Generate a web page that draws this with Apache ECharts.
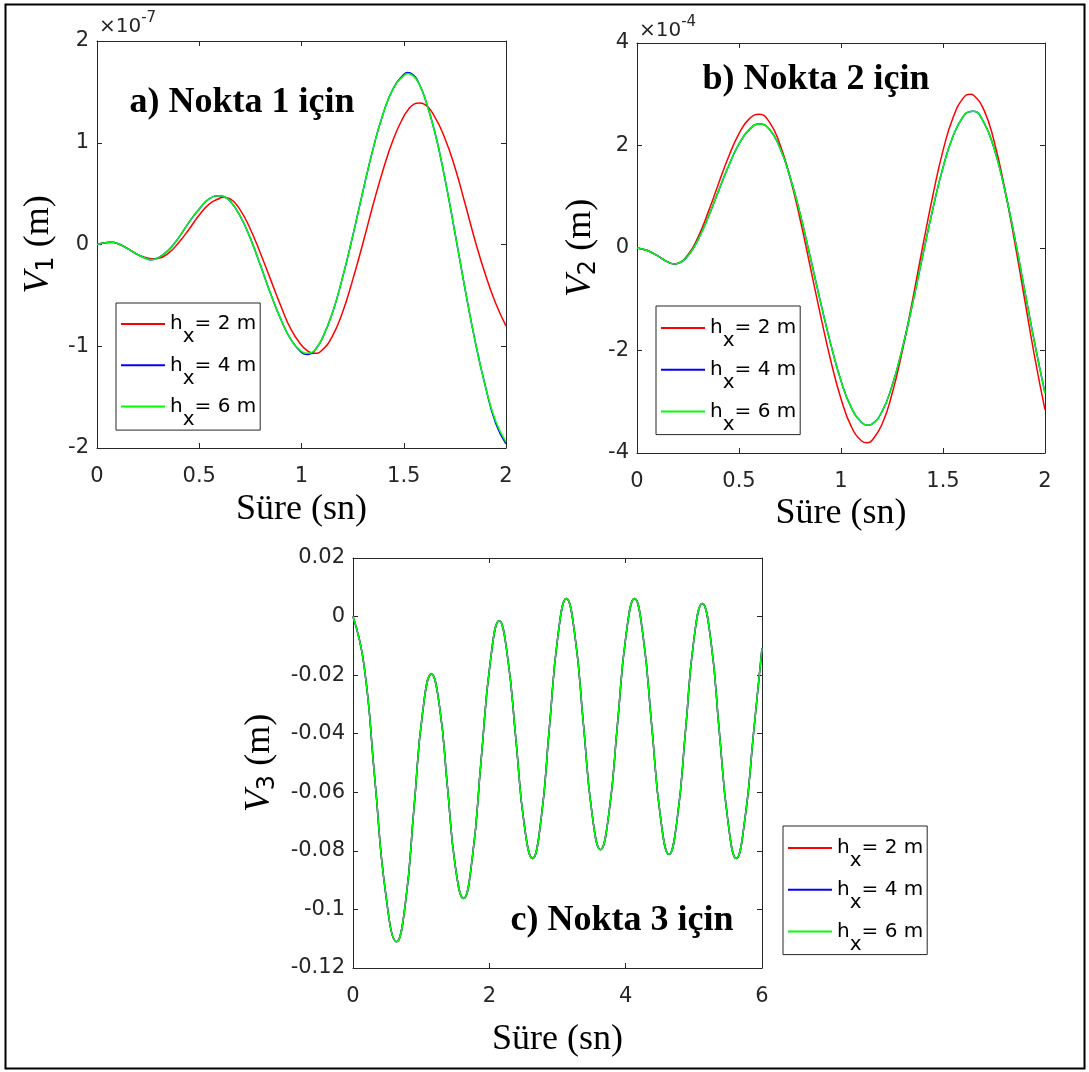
<!DOCTYPE html>
<html>
<head>
<meta charset="utf-8">
<script src="https://cdn.jsdelivr.net/npm/echarts@6/dist/echarts.min.js"></script>
<style>
html,body{margin:0;padding:0;background:#fff;}
#chart{width:1089px;height:1072px;}
</style>
</head>
<body>
<div id="chart"></div>
<script>
// ---------------- DATA ----------------
// a) Nokta 1 : time (s) and V1 in units of 1e-7 m
const timeA = [0,0.05,0.07,0.1,0.15,0.2,0.25,0.265,0.3,0.35,0.4,0.45,0.5,0.55,0.6,0.615,0.65,0.7,0.75,0.8,0.85,0.9,0.95,1,1.03,1.05,1.065,1.1,1.15,1.2,1.25,1.3,1.35,1.4,1.45,1.5,1.52,1.55,1.575,1.6,1.65,1.7,1.75,1.8,1.85,1.9,1.95,2];
const v1Hx2 = [0,0.02,0.022,0.01,-0.04,-0.10,-0.135,-0.14,-0.135,-0.085,0.02,0.15,0.29,0.40,0.455,0.465,0.45,0.34,0.15,-0.09,-0.35,-0.61,-0.84,-0.99,-1.045,-1.066,-1.07,-1.04,-0.905,-0.67,-0.35,0.01,0.39,0.74,1.04,1.26,1.32,1.38,1.39,1.38,1.26,1.05,0.76,0.40,0.03,-0.30,-0.58,-0.80];
const v1Hx4 = [0,0.02,0.022,0.01,-0.04,-0.10,-0.145,-0.15,-0.13,-0.055,0.07,0.22,0.35,0.45,0.48,0.475,0.43,0.28,0.06,-0.21,-0.49,-0.74,-0.94,-1.06,-1.08,-1.07,-1.04,-0.93,-0.68,-0.33,0.08,0.52,0.94,1.29,1.54,1.67,1.69,1.66,1.58,1.46,1.12,0.66,0.12,-0.44,-0.96,-1.40,-1.76,-1.96];
const v1Hx6 = [0,0.02,0.022,0.01,-0.04,-0.10,-0.145,-0.15,-0.13,-0.055,0.07,0.22,0.35,0.45,0.48,0.475,0.43,0.28,0.06,-0.21,-0.49,-0.74,-0.94,-1.05,-1.07,-1.06,-1.04,-0.93,-0.68,-0.33,0.08,0.52,0.94,1.29,1.54,1.66,1.68,1.65,1.575,1.46,1.12,0.66,0.12,-0.44,-0.96,-1.40,-1.74,-1.94];

// b) Nokta 2 : time (s) and V2 in units of 1e-4 m
const timeB = [0,0.05,0.1,0.15,0.185,0.2,0.25,0.3,0.35,0.4,0.45,0.5,0.55,0.6,0.65,0.7,0.75,0.8,0.85,0.9,0.95,1,1.05,1.1,1.13,1.15,1.2,1.25,1.3,1.35,1.4,1.45,1.5,1.55,1.6,1.635,1.65,1.7,1.75,1.8,1.85,1.9,1.95,2];
const v2Hx2 = [0,-0.05,-0.15,-0.27,-0.31,-0.30,-0.13,0.22,0.71,1.26,1.79,2.23,2.52,2.61,2.45,2.03,1.38,0.55,-0.38,-1.32,-2.20,-2.94,-3.48,-3.76,-3.80,-3.76,-3.45,-2.85,-2.02,-1.03,0.02,1.02,1.90,2.55,2.93,3.00,2.98,2.70,2.09,1.21,0.15,-1.00,-2.14,-3.16];
const v2Hx4 = [0,-0.05,-0.15,-0.27,-0.31,-0.30,-0.15,0.17,0.61,1.12,1.61,2.03,2.31,2.42,2.31,1.96,1.39,0.66,-0.19,-1.06,-1.88,-2.59,-3.11,-3.40,-3.46,-3.44,-3.20,-2.69,-1.97,-1.10,-0.16,0.76,1.57,2.19,2.57,2.665,2.67,2.45,1.95,1.18,0.23,-0.82,-1.87,-2.83];
const v2Hx6 = [0,-0.05,-0.15,-0.27,-0.31,-0.30,-0.15,0.17,0.61,1.12,1.61,2.03,2.31,2.42,2.31,1.96,1.39,0.66,-0.19,-1.06,-1.88,-2.59,-3.11,-3.40,-3.46,-3.44,-3.20,-2.69,-1.97,-1.10,-0.16,0.76,1.57,2.19,2.57,2.665,2.67,2.45,1.95,1.18,0.23,-0.82,-1.87,-2.83];

// c) Nokta 3 : time (s) and V3 (m); the three h_x curves coincide
const timeC = [0,0.16,0.32,0.48,0.64,0.77,0.895,1.02,1.15,1.27,1.385,1.5,1.62,1.75,1.88,2.015,2.145,2.265,2.39,2.51,2.633,2.757,2.88,3.005,3.13,3.255,3.38,3.505,3.63,3.755,3.88,4.005,4.13,4.255,4.383,4.51,4.636,4.758,4.88,5.0,5.124,5.25,5.373,5.5,5.622,5.75,5.875,6];
const v3 = [0,-0.0163,-0.0555,-0.0947,-0.111,-0.0976,-0.0653,-0.033,-0.0196,-0.0308,-0.058,-0.0851,-0.0963,-0.0824,-0.0489,-0.0153,-0.0014,-0.0133,-0.042,-0.0707,-0.0826,-0.0696,-0.0382,-0.0068,0.0062,-0.0064,-0.0367,-0.067,-0.0796,-0.067,-0.0367,-0.0064,0.0062,-0.0066,-0.0375,-0.0684,-0.0812,-0.0687,-0.0384,-0.008,0.0045,-0.0083,-0.0391,-0.0698,-0.0826,-0.069,-0.040,-0.0108];

const hxValues = [2, 4, 6];
const seriesNames = hxValues.map(h => 'hx = ' + h + ' m');
const seriesColors = ['#FF0000', '#0000FF', '#00FF00'];
const xTitle = 'Süre (sn)';
const panelTitles = ['a) Nokta 1 için', 'b) Nokta 2 için', 'c) Nokta 3 için'];

// ---------------- CHART ----------------
const AX = '#262626';
const TICK_FONT = 21;
const chart = echarts.init(document.getElementById('chart'), null, {renderer: 'canvas'});

function xAxes(gridIndex, min, max, interval, gap) {
  const common = {
    gridIndex, type: 'value', min, max, interval,
    axisLine: {show: true, onZero: false, lineStyle: {color: AX, width: 1}},
    axisTick: {show: true, inside: true, length: 5, lineStyle: {color: AX}},
    splitLine: {show: false}
  };
  return [
    Object.assign({}, common, {
      position: 'bottom',
      name: xTitle, nameLocation: 'middle', nameGap: gap,
      nameTextStyle: {fontFamily: 'Liberation Serif', fontSize: 36, color: '#000', lineHeight: 40},
      axisLabel: {color: AX, fontSize: TICK_FONT, fontFamily: 'DejaVu Sans', margin: 18}
    }),
    Object.assign({}, common, {position: 'top', axisLabel: {show: false}})
  ];
}
function yAxes(gridIndex, min, max, interval, gap, sub) {
  const common = {
    gridIndex, type: 'value', min, max, interval,
    axisLine: {show: true, onZero: false, lineStyle: {color: AX, width: 1}},
    axisTick: {show: true, inside: true, length: 5, lineStyle: {color: AX}},
    splitLine: {show: false}
  };
  return [
    Object.assign({}, common, {
      position: 'left',
      name: '{v|V}{s|' + sub + '}{m| (m)}', nameLocation: 'middle', nameGap: gap, nameRotate: 90,
      nameTextStyle: {
        color: '#000',
        rich: {
          v: {fontFamily: 'Liberation Serif', fontStyle: 'italic', fontSize: 36, lineHeight: 40, color: '#000'},
          s: {fontFamily: 'DejaVu Sans', fontSize: 24, lineHeight: 40, color: '#000', padding: [16, 0, 0, 0]},
          m: {fontFamily: 'Liberation Serif', fontSize: 36, lineHeight: 40, color: '#000'}
        }
      },
      axisLabel: {color: AX, fontSize: TICK_FONT, fontFamily: 'DejaVu Sans', margin: 8}
    }),
    Object.assign({}, common, {position: 'right', axisLabel: {show: false}})
  ];
}

function lineSeries(k, axisIdx, xs, ys) {
  return {
    type: 'line', name: seriesNames[k],
    xAxisIndex: axisIdx, yAxisIndex: axisIdx,
    data: xs.map((x, i) => [x, ys[i]]),
    showSymbol: false, symbol: 'none', smooth: true,
    lineStyle: {color: seriesColors[k], width: 1.5},
    itemStyle: {color: seriesColors[k]},
    z: 2 + k
  };
}

// subscript "x": zero-height token pushed down by its top padding
const legendRich = {
  h: {fontFamily: 'DejaVu Sans', fontSize: 20, lineHeight: 24, color: '#000'},
  x: {fontFamily: 'DejaVu Sans', fontSize: 20, lineHeight: 24, height: 0, color: '#000', padding: [26, 0, 0, 0]},
  t: {fontFamily: 'DejaVu Sans', fontSize: 20, lineHeight: 24, color: '#000'}
};
function legendAt(left, top, gap, padTop, padBottom) {
  return {
    orient: 'vertical', left, top,
    data: seriesNames,
    icon: 'rect', itemWidth: 44, itemHeight: 2, itemGap: gap,
    padding: [padTop, 4, padBottom, 5],
    borderColor: AX, borderWidth: 1, backgroundColor: '#fff',
    formatter: name => '{h|h}{x|x}{t|= ' + name.match(/\d+/)[0] + ' m}',
    textStyle: {rich: legendRich}
  };
}

function titleText(x, y, txt) {
  return {type: 'text', x, y, z: 100,
    style: {text: txt, font: 'bold 36px "Liberation Serif"', fill: '#000', align: 'center', verticalAlign: 'middle'}};
}
function multText(x, y, exp) {
  return {type: 'text', x, y, z: 100,
    style: {text: '{n|×10}{s|' + exp + '}', align: 'left', verticalAlign: 'middle',
      rich: {
        n: {fontFamily: 'DejaVu Sans', fontSize: 20, lineHeight: 24, fill: AX},
        s: {fontFamily: 'DejaVu Sans', fontSize: 15, lineHeight: 24, fill: AX, padding: [0, 0, 17, 0]}
      }}};
}

const option = {
  animation: false,
  backgroundColor: '#fff',
  grid: [
    {left: 97, top: 41, width: 409, height: 407},
    {left: 637, top: 43, width: 408, height: 410},
    {left: 353, top: 558, width: 409, height: 410}
  ],
  xAxis: [].concat(xAxes(0, 0, 2, 0.5, 42), xAxes(1, 0, 2, 0.5, 41), xAxes(2, 0, 6, 2, 52)),
  yAxis: [].concat(yAxes(0, -2, 2, 1, 38, '1'), yAxes(1, -4, 4, 2, 36, '2'), yAxes(2, -0.12, 0.02, 0.02, 73, '3')),
  legend: [legendAt(116, 303, 5.3, 8, 0.5), legendAt(656, 306, 5.8, 9, 0), legendAt(783, 826, 5.8, 9, 0)],
  series: [
    lineSeries(0, 0, timeA, v1Hx2), lineSeries(1, 0, timeA, v1Hx4), lineSeries(2, 0, timeA, v1Hx6),
    lineSeries(0, 2, timeB, v2Hx2), lineSeries(1, 2, timeB, v2Hx4), lineSeries(2, 2, timeB, v2Hx6),
    lineSeries(0, 4, timeC, v3), lineSeries(1, 4, timeC, v3), lineSeries(2, 4, timeC, v3)
  ],
  graphic: [
    {type: 'rect', z: 100, shape: {x: 5.5, y: 4.5, width: 1079, height: 1064},
      style: {fill: 'none', stroke: '#000', lineWidth: 2}},
    titleText(242, 103, panelTitles[0]),
    titleText(816, 80, panelTitles[1]),
    titleText(622, 921, panelTitles[2]),
    multText(99, 27, '-7'),
    multText(639, 31, '-4')
  ]
};
// series use axis pairs: bottom x axes are 0,2,4 and left y axes are 0,2,4
chart.setOption(option);
</script>
</body>
</html>
